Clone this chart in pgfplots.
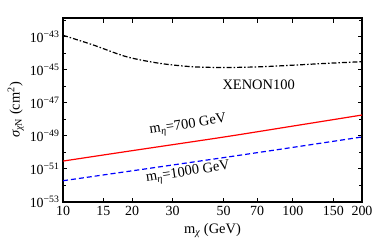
\documentclass[border=0pt]{standalone}
\usepackage{fontspec}
\setmainfont{Liberation Serif}
\usepackage{pgfplots}
\pgfplotsset{compat=1.18}
\begin{document}
\begin{tikzpicture}
\begin{axis}[
  scale only axis, width=299bp, height=184bp,
  xmode=log, ymode=log,
  xmin=10, xmax=200, ymin=1e-53, ymax=1.4e-42,
  xtick={10,15,20,30,50,70,100,150,200},
  xticklabels={10,15,20,30,50,70,100,150,200},
  minor xtick={},
  ytick={1e-53,1e-51,1e-49,1e-47,1e-45,1e-43},
  yticklabels={10\textsuperscript{−53},10\textsuperscript{−51},10\textsuperscript{−49},10\textsuperscript{−47},10\textsuperscript{−45},10\textsuperscript{−43}},
  minor ytick={1e-52,1e-50,1e-48,1e-46,1e-44,1e-42},
  tick align=inside,
  major tick length=4.5bp, minor tick length=3bp,
  tick style={black, line width=1bp},
  axis line style={line width=1.6bp},
  every tick label/.append style={font=\fontsize{14}{16}\selectfont},
  xticklabel style={yshift=-1bp},
  label style={font=\fontsize{14.5}{16}\selectfont},
  xlabel={m\textsubscript{\itshape χ} (GeV)},
  ylabel={{\itshape σ}\textsubscript{{\itshape χ}N} (cm\textsuperscript{2})},
  xlabel style={yshift=-1bp},
  ylabel style={yshift=-1bp},
  clip=true,
]
\addplot[black, line width=1.2bp, smooth, dash pattern=on 5bp off 2bp on 1.5bp off 2bp] coordinates {
  (10,1.26e-43) (13.55,3.24e-44) (18.9,6.31e-45) (26.4,2.51e-45) (36.9,1.55e-45)
  (51.5,1.41e-45) (71.9,1.55e-45) (100.5,1.95e-45) (140.5,2.51e-45) (200,3.16e-45)
};
\addplot[red, line width=1.2bp, smooth] coordinates {
  (10,3.02e-51) (20,1.29e-50) (50,8.6e-50) (100,3.98e-49) (200,1.86e-48)
};
\addplot[blue, line width=1.2bp, smooth, dash pattern=on 5bp off 3bp] coordinates {
  (10,1.95e-52) (20,7.76e-52) (50,4.9e-51) (100,2.04e-50) (200,8.7e-50)
};
\node[rotate=8.5, font=\fontsize{14.5}{16}\selectfont] at (axis cs:35,4.3e-49) {m\textsubscript{\itshape η}=700 GeV};
\node[rotate=8.5, font=\fontsize{14.5}{16}\selectfont] at (axis cs:35,5.8e-52) {m\textsubscript{\itshape η}=1000 GeV};
\node[font=\fontsize{14.5}{16}\selectfont] at (axis cs:71,1.2e-46) {XENON100};
\end{axis}
\pgfresetboundingbox
\path ([xshift=-63bp,yshift=-42bp]current axis.south west) rectangle ([xshift=12bp,yshift=18bp]current axis.north east);
\end{tikzpicture}
\end{document}
